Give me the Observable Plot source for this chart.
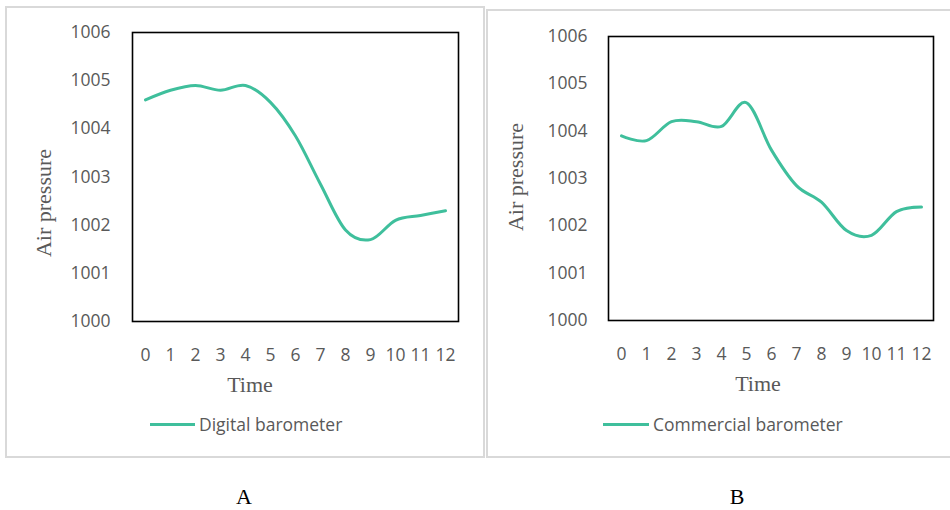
<!DOCTYPE html>
<html>
<head>
<meta charset="utf-8">
<script src="https://cdn.jsdelivr.net/npm/d3@7"></script>
<script src="https://cdn.jsdelivr.net/npm/@observablehq/plot@0.6"></script>
<style>
  body { margin:0; width:950px; height:510px; position:relative; background:#fff; overflow:hidden; }
  .panel { position:absolute; box-sizing:border-box; border:2px solid #d9d9d9; }
  .chart { position:absolute; top:0; }
  .title { position:absolute; font-family:"Liberation Serif", serif; font-size:22px; color:#595959; white-space:nowrap; line-height:1; }
  .ytitle { transform:translate(-50%,-50%) rotate(-90deg); }
  .xtitle { transform:translate(-50%,-50%); }
  .legend { position:absolute; display:flex; align-items:center; font-family:"Open Sans", sans-serif; font-size:17.5px; color:#595959; white-space:nowrap; transform:translateY(-50%); }
  .legend .sw { display:inline-block; height:3px; background:#3fbf9c; margin-right:4px; }
  .cap { position:absolute; font-family:"Liberation Serif", serif; font-size:22px; color:#000; transform:translate(-50%,-50%); line-height:1; }
</style>
</head>
<body>
<div class="panel" style="left:5px;top:6px;width:480px;height:452px"></div>
<div class="panel" style="left:486px;top:9px;width:470px;height:449px"></div>
<div id="chartA" class="chart" style="left:0px"></div>
<div id="chartB" class="chart" style="left:480px"></div>

<div class="title ytitle" style="left:44px;top:203px">Air pressure</div>
<div class="title xtitle" style="left:250px;top:385px">Time</div>
<div class="legend" style="left:150px;top:424px"><span class="sw" style="width:45px"></span>Digital barometer</div>

<div class="title ytitle" style="left:516px;top:177px">Air pressure</div>
<div class="title xtitle" style="left:758px;top:384px">Time</div>
<div class="legend" style="left:603px;top:424px"><span class="sw" style="width:46px"></span>Commercial barometer</div>

<div class="cap" style="left:244px;top:497px">A</div>
<div class="cap" style="left:737px;top:497px">B</div>

<script>
const times = [0, 1, 2, 3, 4, 5, 6, 7, 8, 9, 10, 11, 12];
const digital = [1004.6, 1004.8, 1004.9, 1004.8, 1004.9, 1004.55, 1003.85, 1002.85, 1001.9, 1001.7, 1002.1, 1002.2, 1002.3];
const commercial = [1003.9, 1003.8, 1004.2, 1004.2, 1004.1, 1004.6, 1003.6, 1002.85, 1002.5, 1001.9, 1001.8, 1002.3, 1002.4];
const yTicks = [1000, 1001, 1002, 1003, 1004, 1005, 1006];

const lineColor = "#3fbf9c";

function makeChart(values, opts) {
  const data = times.map((t, i) => ({t, v: values[i]}));
  return Plot.plot({
    width: opts.width,
    height: 400,
    marginLeft: opts.ml,
    marginRight: opts.mr,
    marginTop: opts.mt,
    marginBottom: 400 - opts.fb,
    style: {fontFamily: "'Open Sans', sans-serif", fontSize: "17.5px", color: "#595959", background: "transparent", overflow: "visible"},
    x: {type: "point", domain: times, padding: 0.5},
    y: {domain: [1000, 1006]},
    marks: [
      Plot.axisX({ticks: times, tickSize: 0, tickPadding: 27, tickFormat: d => String(d), label: null}),
      Plot.axisY({ticks: yTicks, tickSize: 0, tickPadding: opts.yp, tickFormat: d => String(d), label: null}),
      Plot.line(data, {x: "t", y: "v", stroke: lineColor, strokeWidth: 3, curve: "cardinal", tension: 0}),
      Plot.frame({stroke: "#000", strokeWidth: 1.6})
    ]
  });
}

document.getElementById("chartA").append(makeChart(digital, {width: 480, ml: 132, mr: 22, mt: 32, fb: 321, yp: 22}));
document.getElementById("chartB").append(makeChart(commercial, {width: 470, ml: 128, mr: 17, mt: 36, fb: 320, yp: 21}));
</script>
</body>
</html>
